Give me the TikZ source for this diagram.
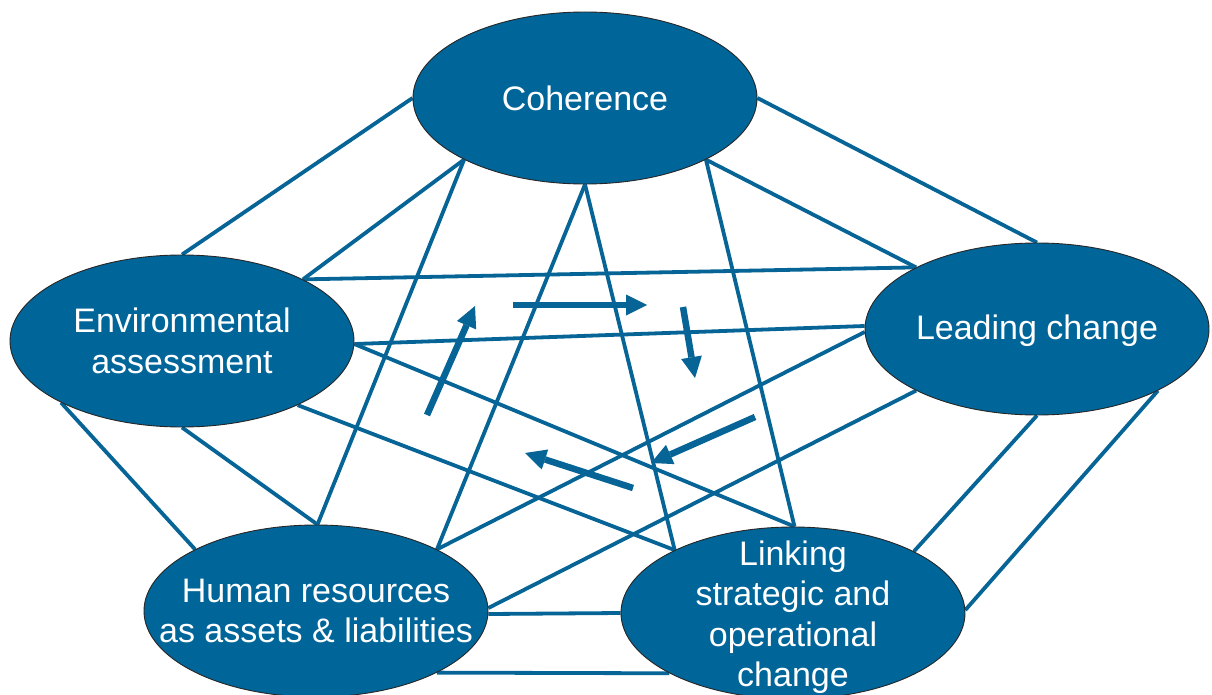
\documentclass[tikz,border=0pt]{standalone}
\usepackage{fontspec}
\setmainfont{Liberation Sans}
\usetikzlibrary{shapes.geometric,arrows.meta}
\pgfdeclarelayer{bg}
\pgfsetlayers{bg,main}
\definecolor{myblue}{RGB}{0,101,153}
\definecolor{linecol}{RGB}{6,100,150}
\begin{document}
\begin{tikzpicture}[x=1pt,y=-1pt,
  ell/.style={ellipse,draw=black!85,line width=0.9pt,fill=myblue,minimum width=344pt,minimum height=172pt,inner sep=0pt},
  lbl/.style={text=white,align=center,font=\fontsize{34}{40.5}\selectfont,inner sep=0pt},
  link/.style={draw=linecol,line width=3.8pt},
  flow/.style={draw=linecol,line width=6.5pt,-{Triangle[length=21pt,width=21pt,line width=0pt]}}]
\useasboundingbox (0,0) rectangle (1212,695);
% ellipses
\node[ell] (C) at (585,98) {};
\node[ell] (E) at (182,341) {};
\node[ell] (L) at (1037,329) {};
\node[ell] (H) at (316,611) {};
\node[ell] (K) at (793,613) {};
\node[lbl] (Ct) at (C) {Coherence};
\node[lbl] (Et) at (E) {Environmental\\assessment};
\node[lbl] (Lt) at ([yshift=-2pt]L) {Leading change};
\node[lbl] (Ht) at (H) {Human resources\\as assets \& liabilities};
\node[lbl] (Kt) at ([yshift=-4pt]K) {Linking\\strategic and\\operational\\change};
% connectors
\begin{pgfonlayer}{bg}
\fill[white] (0,0) rectangle (1212,695);
\draw[link] (C.180) -- (E.90);
\draw[link] (C.207) -- (E.27);
\draw[link] (C.0) -- (L.90);
\draw[link] (C.333) -- (L.153.5);
\draw[link] (C.207) -- (H.89);
\draw[link] (C.270) -- (H.27);
\draw[link] (C.270) -- (K.152);
\draw[link] (C.333) -- (K.89);
\draw[link] (E.27) -- (L.153.5);
\draw[link] (E.359) -- (L.179.5);
\draw[link] (E.207.5) -- (H.153);
\draw[link] (E.270) -- (H.89);
\draw[link] (E.359) -- (K.89);
\draw[link] (E.331.5) -- (K.152);
\draw[link] (L.181.5) -- (H.27);
\draw[link] (L.207) -- (H.1);
\draw[link] (L.270) -- (K.27.5);
\draw[link] (L.333.5) -- (K.1);
\draw[link] (H.359.5) -- (K.180.5);
\draw[link] (H.333.8) -- (K.206);
\end{pgfonlayer}
% flow arrows
\coordinate (a1s) at (427,415); \coordinate (a1e) at (475,306);
\coordinate (a2s) at (513,305); \coordinate (a2e) at (647,305);
\coordinate (a3s) at (683,307); \coordinate (a3e) at (695,378);
\coordinate (a4s) at (755,417); \coordinate (a4e) at (651,463);
\coordinate (a5s) at (633,488); \coordinate (a5e) at (525,453);
\draw[flow] (a1s) -- (a1e);
\draw[flow] (a2s) -- (a2e);
\draw[flow] (a3s) -- (a3e);
\draw[flow] (a4s) -- (a4e);
\draw[flow] (a5s) -- (a5e);
\end{tikzpicture}
\end{document}
